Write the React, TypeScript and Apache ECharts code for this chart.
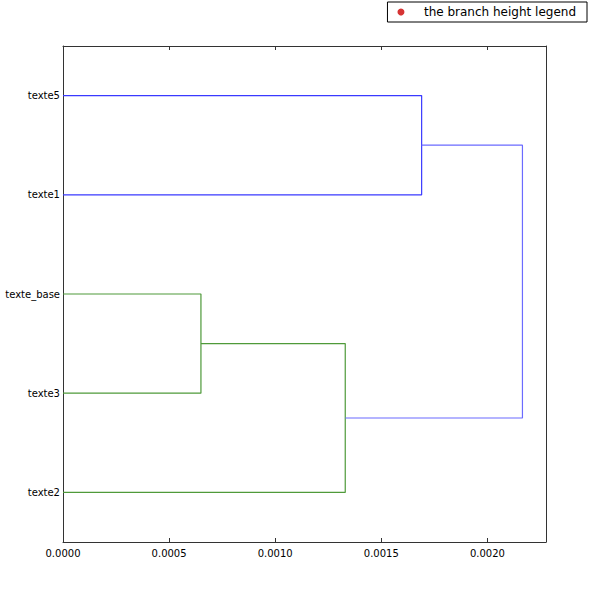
import React, { useEffect, useRef } from "react";
import * as echarts from "echarts";

// Leaves, bottom to top, at scipy-style positions 5, 15, 25 ...
const leafLabels = ["texte2", "texte3", "texte_base", "texte1", "texte5"];
const leafPositions = [5, 15, 25, 35, 45];

// Merge heights (distance) of the four links
const mergeHeights = [0.00065, 0.00133, 0.00169, 0.002165];

// Link shapes (scipy icoord/dcoord style): vertical positions and distances
const linkPos = [
  [25, 25, 15, 15],
  [20, 20, 5, 5],
  [45, 45, 35, 35],
  [40, 40, 12.5, 12.5],
];
const linkDist = [
  [0, mergeHeights[0], mergeHeights[0], 0],
  [mergeHeights[0], mergeHeights[1], mergeHeights[1], 0],
  [0, mergeHeights[2], mergeHeights[2], 0],
  [mergeHeights[2], mergeHeights[3], mergeHeights[3], mergeHeights[1]],
];
const linkColors = ["#4f9a3a", "#4f9a3a", "#3a3aff", "#6b6bff"];

const xMax = 0.002276;
const xInterval = 0.0005;
const legendName = "the branch height legend";

const FONT = "DejaVu Sans";
const SPINE = "#333";

export default function App() {
  const ref = useRef<HTMLDivElement>(null);
  useEffect(() => {
    document.body.style.margin = "0";
    const chart = echarts.init(ref.current!, null, { renderer: "svg" });
    const linkSeries = linkPos.map((ys, i) => ({
      type: "line",
      name: "link" + i,
      data: ys.map((y, j) => [linkDist[i][j], y]),
      showSymbol: false,
      symbol: "none",
      lineStyle: { color: linkColors[i], width: 1.2 },
      itemStyle: { color: linkColors[i] },
      silent: true,
      z: 3,
    }));
    const spineLine = { show: true, onZero: false, lineStyle: { color: SPINE, width: 1 } };
    chart.setOption({
      animation: false,
      grid: { left: 63, top: 46, width: 483, height: 496, containLabel: false },
      legend: {
        data: [{ name: legendName, icon: "circle" }],
        right: 7,
        top: 2,
        orient: "vertical",
        borderColor: "#000",
        borderWidth: 1,
        borderRadius: 0,
        padding: [4, 11, 4, 10],
        itemWidth: 12,
        itemHeight: 7,
        textStyle: {
          fontFamily: FONT,
          fontSize: 12,
          color: "#000",
          padding: [0, 0, 0, 12],
        },
        selectedMode: false,
      },
      xAxis: [
        {
          type: "value",
          min: 0,
          max: xMax,
          interval: xInterval,
          position: "bottom",
          axisLine: spineLine,
          axisTick: { show: true, inside: true, length: 4, lineStyle: { color: SPINE } },
          axisLabel: {
            fontFamily: FONT,
            fontSize: 10,
            color: "#000",
            margin: 6,
            formatter: (v: number) => v.toFixed(4),
            showMaxLabel: false,
          },
          splitLine: { show: false },
        },
        {
          type: "value",
          min: 0,
          max: xMax,
          interval: xInterval,
          position: "top",
          axisLine: spineLine,
          axisTick: { show: true, inside: true, length: 4, lineStyle: { color: SPINE } },
          axisLabel: { show: false },
          splitLine: { show: false },
        },
      ],
      yAxis: [
        {
          type: "value",
          min: 0,
          max: 50,
          position: "left",
          axisLine: spineLine,
          axisTick: { show: false },
          axisLabel: {
            fontFamily: FONT,
            fontSize: 10,
            color: "#000",
            margin: 3,
            customValues: leafPositions,
            formatter: (v: number) => leafLabels[leafPositions.indexOf(v)] ?? "",
          },
          splitLine: { show: false },
        },
        {
          type: "value",
          min: 0,
          max: 50,
          position: "right",
          axisLine: spineLine,
          axisTick: { show: false },
          axisLabel: { show: false },
          splitLine: { show: false },
        },
      ],
      series: [
        ...linkSeries,
        {
          type: "scatter",
          name: legendName,
          data: [],
          symbol: "circle",
          itemStyle: { color: "#cc0000" },
        },
      ],
    });
    return () => chart.dispose();
  }, []);
  return <div ref={ref} style={{ width: 594, height: 599 }} />;
}
